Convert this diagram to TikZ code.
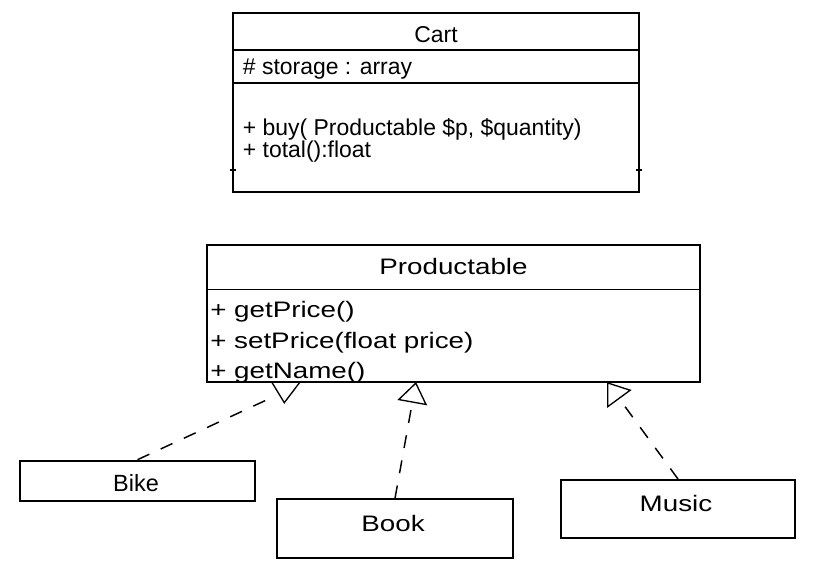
\documentclass[tikz,border=0pt]{standalone}
\usepackage{fontspec}
\setmainfont{Liberation Sans}
\newfontfamily\widefont[FakeStretch=1.24]{Liberation Sans}
\usetikzlibrary{arrows.meta}

\begin{document}
\begin{tikzpicture}[x=.75pt, y=-.75pt, classbox/.style={draw=black, line
  width=1.5pt, rectangle, inner sep=0pt}, sepline/.style={line width=1pt},
  member/.style={anchor=base west, inner sep=0pt}, title/.style={anchor=base,
  inner sep=0pt}, cartfont/.style={font=\fontsize{17.2}{20}\selectfont},
  widetext/.style={font=\widefont\fontsize{16.8}{20}\selectfont},
  dashline/.style={line width=1.1pt, dash pattern=on 9.75pt off 9.4pt},
  realize/.style={dashline, -{Triangle[open, length=15.75pt, width=22.5pt,
  line width=1pt]}} ]

\useasboundingbox (0,0) rectangle (826,565);

% Cart class
\node[classbox, minimum width=304.5pt, minimum height=133.8pt] (cart) at
  (436,102.5) {};
\node[title, cartfont] (cartname) at (436,42.5) {Cart};
\draw[sepline] (233,50) -- (639,50); \draw[sepline] (233,83) -- (639,83);
\draw[sepline] (230,170) -- (236,170); \draw[sepline] (636,170) -- (642,170);
\node[member, cartfont] (cartattr) at (242.7,74.5) {\# storage : array};
\node[member, cartfont] (cartbuy) at (242.7,135) {+ buy( Productable \$p,
  \$quantity)};
\node[member, cartfont] (carttotal) at (242.7,157) {+ total():float};

% Productable interface
\node[classbox, minimum width=369.75pt, minimum height=102.75pt] (prod) at
  (453.5,313.5) {};
\node[title, widetext] (prodname) at (453.5,274) {Productable};
\draw[sepline] (207,289.5) -- (699,289.5);
\node[member, widetext] (getprice) at (210,317) {+ getPrice()};
\node[member, widetext] (setprice) at (210,348) {+ setPrice(float price)};
\node[member, widetext] (getname) at (210,378.5) {+ getName()};

% Subclasses
\node[classbox, minimum width=176.25pt, minimum height=30pt] (bike) at
  (137.5,480.7) {};
\node[title, font=\fontsize{17.6}{20}\selectfont] (bikename) at (136,491.7)
  {Bike};
\node[classbox, minimum width=176.5pt, minimum height=44.25pt] (book) at
  (395,528.8) {};
\node[title, widetext] (bookname) at (393,531.7) {Book};
\node[classbox, minimum width=175.5pt, minimum height=43.5pt] (music) at
  (678,509) {};
\node[title, widetext] (musicname) at (676,511.7) {Music};

% Connections subclass -> interface
\coordinate (bikeend) at (273,397); \coordinate (bookhead) at (416,382);
\coordinate (musichead) at (607,382);
\draw[dashline] (bike.north) -- (bikeend);
\draw[line width=1pt] (271.7,382) -- (284.3,402.7) -- (300,382);
\draw[realize] (book.north) -- (bookhead);
\draw[realize] (music.north) -- (musichead);

\end{tikzpicture}
\end{document}
